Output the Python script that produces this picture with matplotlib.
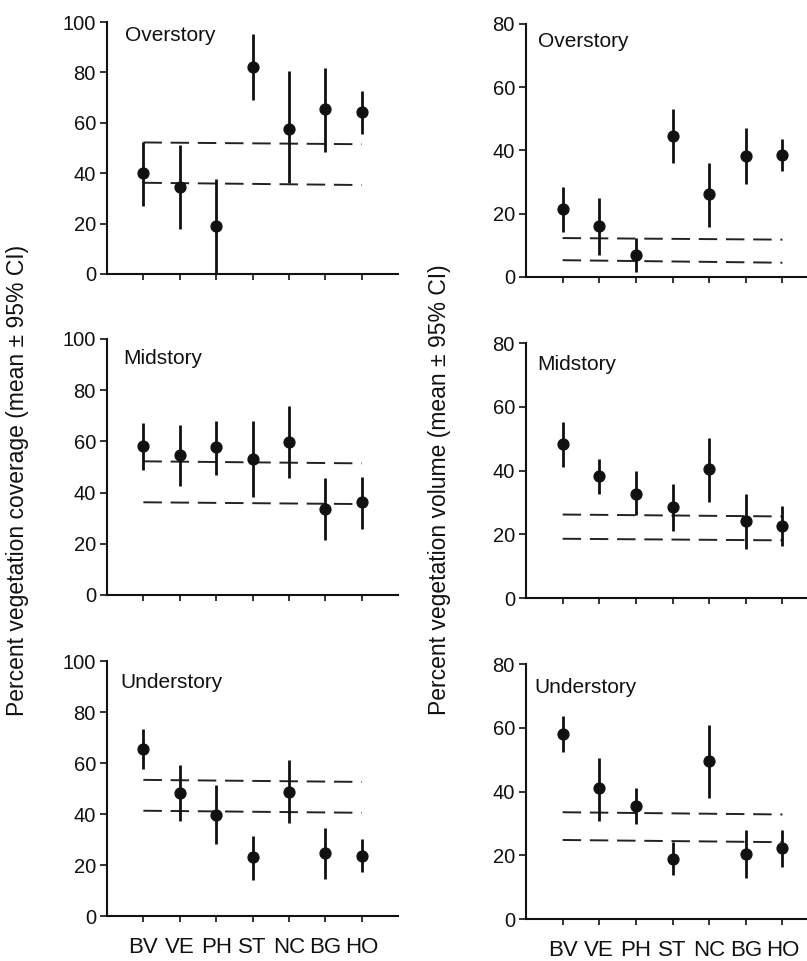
import matplotlib
matplotlib.use("Agg")
import matplotlib.pyplot as plt
import numpy as np

plt.rcParams['font.family'] = ['Liberation Sans', 'DejaVu Sans']

sites = ["BV", "VE", "PH", "ST", "NC", "BG", "HO"]

# Percent vegetation coverage (mean, lower 95% CI, upper 95% CI)
cov_over_mean = [40.0, 34.6, 19.0, 82.0, 57.7, 65.4, 64.3]
cov_over_lo = [27.0, 17.7, 0.0, 69.0, 36.0, 48.5, 55.7]
cov_over_hi = [52.4, 51.0, 37.6, 95.4, 80.4, 81.8, 72.5]
cov_over_ref = [[52.2, 51.5], [36.2, 35.3]]

cov_mid_mean = [58.2, 54.8, 57.8, 53.1, 59.9, 33.4, 36.4]
cov_mid_lo = [48.8, 42.7, 47.0, 38.4, 45.6, 21.4, 25.6]
cov_mid_hi = [67.1, 66.2, 68.1, 68.0, 73.9, 45.6, 46.2]
cov_mid_ref = [[52.2, 51.4], [36.2, 35.5]]

cov_under_mean = [65.4, 48.4, 39.6, 23.0, 48.7, 24.8, 23.6]
cov_under_lo = [57.6, 37.3, 28.2, 14.1, 36.6, 14.4, 17.1]
cov_under_hi = [73.5, 59.1, 51.3, 31.3, 61.1, 34.7, 30.3]
cov_under_ref = [[53.4, 52.6], [41.3, 40.5]]

# Percent vegetation volume (mean, lower 95% CI, upper 95% CI)
vol_over_mean = [21.5, 16.0, 6.9, 44.5, 26.2, 38.4, 38.7]
vol_over_lo = [14.2, 6.9, 1.6, 35.9, 15.8, 29.3, 33.6]
vol_over_hi = [28.5, 25.0, 12.3, 53.0, 36.1, 47.2, 43.7]
vol_over_ref = [[12.3, 11.8], [5.3, 4.5]]

vol_mid_mean = [48.2, 38.3, 32.7, 28.5, 40.4, 24.2, 22.5]
vol_mid_lo = [41.1, 32.7, 26.2, 21.0, 30.1, 15.5, 16.2]
vol_mid_hi = [55.2, 43.7, 39.8, 35.9, 50.3, 32.5, 28.9]
vol_mid_ref = [[26.2, 25.6], [18.6, 18.1]]

vol_under_mean = [58.2, 41.0, 35.6, 18.8, 49.6, 20.3, 22.2]
vol_under_lo = [52.3, 30.8, 29.8, 13.8, 38.1, 12.8, 16.4]
vol_under_hi = [63.8, 50.4, 41.0, 24.3, 60.9, 27.9, 27.9]
vol_under_ref = [[33.5, 32.8], [24.8, 24.1]]

strata = ["Overstory", "Midstory", "Understory"]

fig = plt.figure(figsize=(8.07, 9.61), dpi=100)

left_pos = [
    [0.1326, 0.7149, 0.3606, 0.2622],
    [0.1326, 0.3809, 0.3606, 0.2664],
    [0.1326, 0.0468, 0.3606, 0.2653],
]
right_pos = [
    [0.6518, 0.7118, 0.3631, 0.2633],
    [0.6518, 0.3777, 0.3631, 0.2653],
    [0.6518, 0.0437, 0.3631, 0.2653],
]
label_pos_left = [(0.062, 0.985), (0.055, 0.96), (0.045, 0.955)]
label_pos_right = [(0.04, 0.968), (0.038, 0.955), (0.03, 0.945)]

left_data = [
    (cov_over_mean, cov_over_lo, cov_over_hi, cov_over_ref),
    (cov_mid_mean, cov_mid_lo, cov_mid_hi, cov_mid_ref),
    (cov_under_mean, cov_under_lo, cov_under_hi, cov_under_ref),
]
right_data = [
    (vol_over_mean, vol_over_lo, vol_over_hi, vol_over_ref),
    (vol_mid_mean, vol_mid_lo, vol_mid_hi, vol_mid_ref),
    (vol_under_mean, vol_under_lo, vol_under_hi, vol_under_ref),
]

x = np.arange(1, len(sites) + 1)


def draw_panel(ax, mean, lo, hi, ref, ymax, title, tpos, show_labels):
    ax.vlines(x, lo, hi, color="#111111", lw=2.0, zorder=3)
    ax.plot(x, mean, "o", color="#111111", ms=7.8, zorder=4)
    for ends in ref:
        ax.plot([x[0], x[-1]], ends, color="#222222", lw=1.4,
                ls=(0, (9.5, 4.5)), zorder=2)
    ax.set_xlim(0, 8)
    ax.set_ylim(0, ymax)
    ax.set_yticks(np.arange(0, ymax + 1, 20))
    ax.set_xticks(x)
    if show_labels:
        ax.set_xticklabels(sites, fontsize=16)
    else:
        ax.set_xticklabels([])
    for s in ("top", "right"):
        ax.spines[s].set_visible(False)
    for s in ("left", "bottom"):
        ax.spines[s].set_linewidth(1.5)
        ax.spines[s].set_color("#111111")
    ax.tick_params(axis="y", direction="out", length=5, width=1.2,
                   labelsize=14.5, pad=3, colors="#111111")
    ax.tick_params(axis="x", direction="out", length=4, width=1.2,
                   pad=11, colors="#111111")
    ax.text(tpos[0], tpos[1], title, transform=ax.transAxes,
            fontsize=15, va="top", ha="left", color="#111111")


for i in range(3):
    axl = fig.add_axes(left_pos[i])
    m, lo, hi, ref = left_data[i]
    draw_panel(axl, m, lo, hi, ref, 100, strata[i], label_pos_left[i], i == 2)

    axr = fig.add_axes(right_pos[i])
    m, lo, hi, ref = right_data[i]
    draw_panel(axr, m, lo, hi, ref, 80, strata[i], label_pos_right[i], i == 2)

fig.text(0.022, 0.5, "Percent vegetation coverage (mean \u00b1 95% CI)",
         rotation=90, va="center", ha="center", fontsize=16.5, color="#111111")
fig.text(0.545, 0.49, "Percent vegetation volume (mean \u00b1 95% CI)",
         rotation=90, va="center", ha="center", fontsize=16.5, color="#111111")

fig.savefig("out.png", dpi=100, facecolor="white")
